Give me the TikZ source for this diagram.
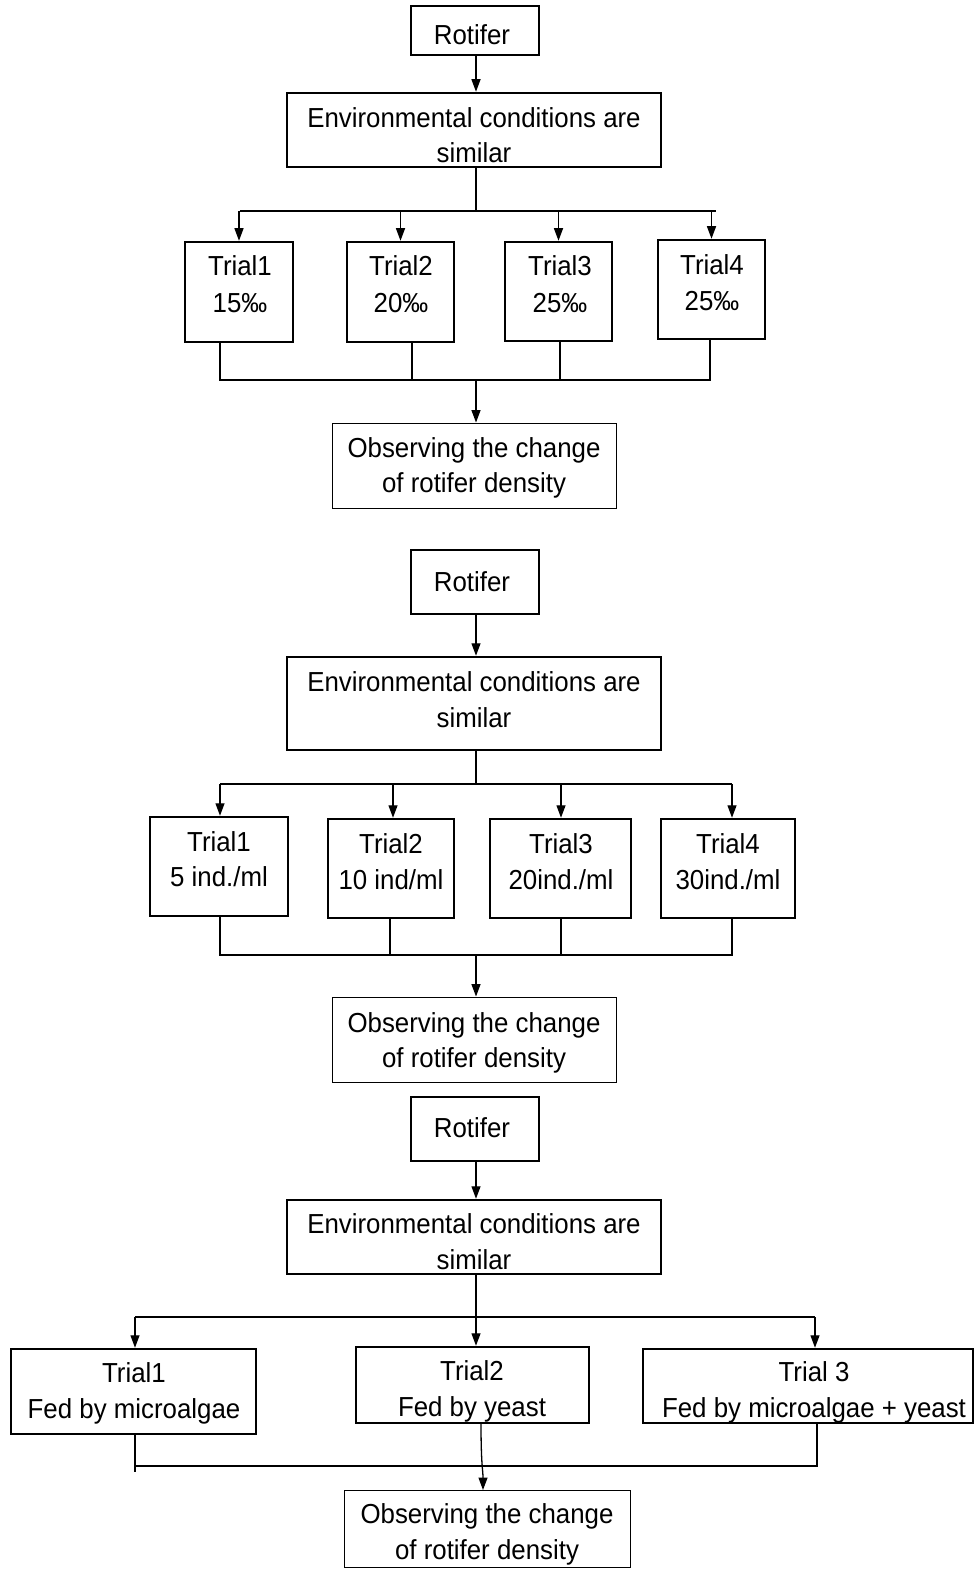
\documentclass[tikz,border=0pt]{standalone}
\usepackage{fontspec}
\setmainfont{Liberation Sans}[FakeStretch=0.94]
\usetikzlibrary{arrows.meta}
\newcommand\mybox[6]{\node[#2, minimum width={#5-#3}, minimum height={#6-#4}] (#1) at ({(#3+#5)/2},{(#4+#6)/2}) {};}
\newcommand\tl[3]{\node[txt] (#1) at #2 {#3};}
\begin{document}
\begin{tikzpicture}[x=1pt,y=-1pt,
  thickbox/.style={draw, line width=2.5pt, inner sep=0pt},
  thinbox/.style={draw, line width=0.9pt, inner sep=0pt},
  txt/.style={inner sep=0pt, font=\fontsize{27.5}{33}\selectfont, anchor=base},
  conn/.style={line width=1.3pt},
  arr/.style={conn, -{Triangle[length=12.5pt,width=9pt]}}]
\useasboundingbox (0,0) rectangle (976,1570);

% ===== Section 1 =====
\mybox{r1}{thickbox}{411}{6}{539}{55}
\tl{r1t}{(472,45)}{Rotifer}
\mybox{e1}{thickbox}{287}{93}{661}{167}
\tl{e1a}{(474,128)}{Environmental conditions are}
\tl{e1b}{(474,163)}{similar}
\mybox{a1}{thickbox}{185}{242}{293}{342}
\mybox{a2}{thickbox}{347}{242}{454}{342}
\mybox{a3}{thickbox}{505}{242}{612}{341}
\mybox{a4}{thickbox}{658}{240}{765}{339}
\tl{a1a}{(240,276)}{Trial1}\tl{a1b}{(240,312)}{15‰}
\tl{a2a}{(401,276)}{Trial2}\tl{a2b}{(401,312)}{20‰}
\tl{a3a}{(560,276)}{Trial3}\tl{a3b}{(560,312)}{25‰}
\tl{a4a}{(712,274)}{Trial4}\tl{a4b}{(712,310)}{25‰}
\mybox{o1}{thinbox}{332}{423}{616}{508}
\tl{o1a}{(474,457)}{Observing the change}
\tl{o1b}{(474,492)}{of rotifer density}

\coordinate (h1) at (476,211);
\coordinate (h1L) at (240,211);
\coordinate (h1R) at (716,211);
\draw[arr] (r1.south -| h1) -- (e1.north -| h1);
\draw[conn] (e1.south -| h1) -- (h1);
\draw[conn] (h1L) -- (h1R);
\draw[arr] (a1.north |- h1) -- (a1.north);
\draw[arr] (a2.north |- h1) -- (a2.north);
\draw[arr] (a3.north |- h1) -- (a3.north);
\draw[arr] (a4.north |- h1) -- (a4.north);
\coordinate (b1a) at (220,380);
\coordinate (b1b) at (412,380);
\coordinate (b1c) at (560,380);
\coordinate (b1d) at (710,380);
\coordinate (b1m) at (476,380);
\draw[conn] (a1.south -| b1a) -- (b1a) -- (b1d) -- (a4.south -| b1d);
\draw[conn] (a2.south -| b1b) -- (b1b);
\draw[conn] (a3.south -| b1c) -- (b1c);
\draw[arr] (b1m) -- (o1.north -| b1m);

% ===== Section 2 =====
\mybox{r2}{thickbox}{411}{550}{539}{614}
\tl{r2t}{(472,591)}{Rotifer}
\mybox{e2}{thickbox}{287}{657}{661}{750}
\tl{e2a}{(474,691)}{Environmental conditions are}
\tl{e2b}{(474,727)}{similar}
\mybox{c1}{thickbox}{150}{817}{288}{916}
\mybox{c2}{thickbox}{328}{819}{454}{918}
\mybox{c3}{thickbox}{490}{819}{631}{918}
\mybox{c4}{thickbox}{661}{819}{795}{918}
\tl{c1a}{(219,851)}{Trial1}\tl{c1b}{(219,886)}{5 ind./ml}
\tl{c2a}{(391,853)}{Trial2}\tl{c2b}{(391,889)}{10 ind/ml}
\tl{c3a}{(561,853)}{Trial3}\tl{c3b}{(561,889)}{20ind./ml}
\tl{c4a}{(728,853)}{Trial4}\tl{c4b}{(728,889)}{30ind./ml}
\mybox{o2}{thinbox}{332}{997}{616}{1082}
\tl{o2a}{(474,1032)}{Observing the change}
\tl{o2b}{(474,1067)}{of rotifer density}

\coordinate (h2) at (476,784);
\coordinate (h2a) at (220,784);
\coordinate (h2b) at (393,784);
\coordinate (h2c) at (561,784);
\coordinate (h2d) at (732,784);
\draw[arr] (r2.south -| h2) -- (e2.north -| h2);
\draw[conn] (e2.south -| h2) -- (h2);
\draw[conn] (h2a) -- (h2d);
\draw[arr] (h2a) -- (c1.north -| h2a);
\draw[arr] (h2b) -- (c2.north -| h2b);
\draw[arr] (h2c) -- (c3.north -| h2c);
\draw[arr] (h2d) -- (c4.north -| h2d);
\coordinate (b2a) at (220,955);
\coordinate (b2b) at (390,955);
\coordinate (b2c) at (561,955);
\coordinate (b2d) at (732,955);
\coordinate (b2m) at (476,955);
\draw[conn] (c1.south -| b2a) -- (b2a) -- (b2d) -- (c4.south -| b2d);
\draw[conn] (c2.south -| b2b) -- (b2b);
\draw[conn] (c3.south -| b2c) -- (b2c);
\draw[arr] (b2m) -- (o2.north -| b2m);

% ===== Section 3 =====
\mybox{r3}{thickbox}{411}{1097}{539}{1161}
\tl{r3t}{(472,1137)}{Rotifer}
\mybox{e3}{thickbox}{287}{1200}{661}{1274}
\tl{e3a}{(474,1233)}{Environmental conditions are}
\tl{e3b}{(474,1269)}{similar}
\mybox{d1}{thickbox}{11}{1349}{256}{1434}
\mybox{d2}{thickbox}{356}{1347}{589}{1423}
\mybox{d3}{thickbox}{643}{1349}{973}{1423}
\tl{d1a}{(134,1382)}{Trial1}\tl{d1b}{(134,1418)}{Fed by microalgae}
\tl{d2a}{(472,1380)}{Trial2}\tl{d2b}{(472,1416)}{Fed by yeast}
\tl{d3a}{(814,1381)}{Trial 3}\tl{d3b}{(814,1417)}{Fed by microalgae + yeast}
\mybox{o3}{thinbox}{344}{1490}{630}{1567}
\tl{o3a}{(487,1523)}{Observing the change}
\tl{o3b}{(487,1559)}{of rotifer density}

\coordinate (h3) at (476,1317);
\coordinate (h3a) at (135,1317);
\coordinate (h3c) at (815,1317);
\draw[arr] (r3.south -| h3) -- (e3.north -| h3);
\draw[arr] (e3.south -| h3) -- (d2.north -| h3);
\draw[conn] (h3a) -- (h3c);
\draw[arr] (h3a) -- (d1.north -| h3a);
\draw[arr] (h3c) -- (d3.north -| h3c);
\coordinate (b3a) at (135,1466);
\coordinate (b3e) at (135,1472);
\coordinate (b3c) at (817,1466);
\coordinate (b3t) at (481,1423);
\coordinate (b3m) at (483,1490);
\draw[conn] (d1.south -| b3a) -- (b3e);
\draw[conn] (b3a) -- (b3c) -- (d3.south -| b3c);
\draw[arr] (b3t) .. controls (481,1465) and (483,1470) .. (b3m);
\end{tikzpicture}
\end{document}
